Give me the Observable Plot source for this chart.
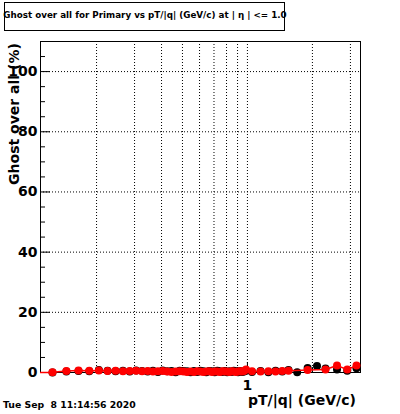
<!DOCTYPE html>
<html>
<head>
<meta charset="utf-8">
<script src="https://cdn.jsdelivr.net/npm/d3@7"></script>
<script src="https://cdn.jsdelivr.net/npm/@observablehq/plot@0.6"></script>
<style>
  html, body { margin: 0; padding: 0; background: #fff; }
  #wrap { position: relative; width: 400px; height: 414px; overflow: hidden; font-family: "DejaVu Sans", sans-serif; font-weight: bold; color: #000; }
  .abs { position: absolute; white-space: pre; line-height: 1; }
  #titlebox { left: 4px; top: 2px; width: 279px; height: 27px; border: 1px solid #000; }
  #title { left: 0px; top: 11px; width: 290px; text-align: center; font-size: 8.75px; }
  #date { left: 3px; top: 400px; font-size: 9.3px; }
  #xlabel { left: 248px; top: 393px; font-size: 14px; }
  #ylabel { left: 14px; top: 114px; font-size: 14px; transform: translate(-50%, -50%) rotate(-90deg); }
</style>
</head>
<body>
<div id="wrap">
  <div id="chart"></div>
  <div class="abs" id="titlebox"></div>
  <div class="abs" id="title">Ghost over all for Primary vs pT/|q| (GeV/c) at | η | &lt;= 1.0</div>
  <div class="abs" id="date">Tue Sep  8 11:14:56 2020</div>
  <div class="abs" id="xlabel">pT/|q| (GeV/c)</div>
  <div class="abs" id="ylabel">Ghost over all (%)</div>
</div>
<script>
// ---- data ----
const pt = [0.125,0.145,0.165,0.185,0.205,0.225,0.245,0.265,0.285,0.305,0.325,0.345,0.365,0.385,0.405,0.425,0.445,0.465,0.485,0.505,0.525,0.545,0.565,0.585,0.605,0.625,0.645,0.665,0.685,0.705,0.725,0.745,0.765,0.785,0.805,0.825,0.845,0.865,0.885,0.905,0.925,0.945,0.965,0.985,1.05,1.15,1.25,1.35,1.45,1.55,1.7,1.9,2.1,2.3,2.6,2.9,3.2];
const ghostRed = [0.1,0.5,0.7,0.6,0.7,0.5,0.6,0.4,0.5,0.6,0.4,0.5,0.3,0.4,0.5,0.3,0.2,0.3,0.4,0.3,0.2,0.3,0.2,0.4,0.3,0.2,0.3,0.4,0.2,0.3,0.3,0.2,0.4,0.3,0.3,0.2,0.4,0.3,0.2,0.3,0.4,0.3,0.5,1.0,0.4,0.3,0.4,0.3,0.5,0.6,null,0.8,null,1.0,2.3,1.0,2.3];
const ghostBlack = [0.0,0.3,0.5,0.4,0.8,0.6,0.4,0.6,0.3,0.7,0.5,0.3,0.6,0.2,0.7,0.4,0.5,0.1,0.6,0.5,0.4,0.1,0.5,0.2,0.6,0.4,0.1,0.5,0.4,0.1,0.6,0.4,0.2,0.5,0.1,0.4,0.2,0.6,0.4,0.1,0.5,0.2,0.3,0.6,0.2,0.5,0.1,0.6,0.3,0.8,0.1,1.5,2.2,1.3,1.0,0.6,1.4];
const yMajor = [0,20,40,60,80,100];
const yMinor = [5,10,15,25,30,35,45,50,55,65,70,75,85,90,95,105];
const yGrid = [20,40,60,80,100];
const xGrid = [0.2,0.3,0.4,0.5,0.6,0.7,0.8,0.9,1,2,3];
const xMajor = [1];
const xMinor = [0.2,0.3,0.4,0.5,0.6,0.7,0.8,0.9,2,3];
const xDomain = [0.11, 3.34];
const yDomain = [0, 110];

const red = pt.map((p, i) => ({pt: p, v: ghostRed[i]})).filter(d => d.v != null);
const black = pt.map((p, i) => ({pt: p, v: ghostBlack[i]})).filter(d => d.v != null);

const chart = Plot.plot({
  width: 400,
  height: 414,
  marginLeft: 40,
  marginRight: 40,
  marginTop: 41,
  marginBottom: 42,
  style: {fontFamily: "DejaVu Sans", fontWeight: "bold", fontSize: "14px", color: "#000", background: "#fff"},
  x: {type: "log", domain: xDomain, range: [40, 360]},
  y: {domain: yDomain},
  marks: [
    Plot.ruleX(xGrid, {stroke: "#000", strokeWidth: 1, strokeDasharray: "1,2"}),
    Plot.ruleY(yGrid, {stroke: "#000", strokeWidth: 1, strokeDasharray: "1,2"}),
    Plot.axisY({ticks: yMajor, tickSize: 0, tickPadding: 3, tickFormat: d => String(d), fontSize: 14, fontWeight: "bold", label: null}),
    Plot.axisY({ticks: yMajor, tickSize: -10, tickFormat: () => "", label: null}),
    Plot.axisY({ticks: yMinor, tickSize: -5, tickFormat: () => "", label: null}),
    Plot.axisX({ticks: xMajor, tickSize: 0, tickPadding: 8, tickFormat: d => String(d), fontSize: 14, fontWeight: "bold", label: null}),
    Plot.axisX({ticks: xMajor, tickSize: -10, tickFormat: () => "", label: null}),
    Plot.axisX({ticks: xMinor, tickSize: -5, tickFormat: () => "", label: null}),
    Plot.frame({stroke: "#000", strokeWidth: 1}),
    Plot.dot(black, {x: "pt", y: "v", r: 4, fill: "#000", stroke: "none"}),
    Plot.ruleY([0], {x1: xDomain[0], x2: pt[0], stroke: "#ff0000", strokeWidth: 1.5}),
    Plot.line(red, {x: "pt", y: "v", stroke: "#ff0000", strokeWidth: 1.5}),
    Plot.dot(red, {x: "pt", y: "v", r: 4, fill: "#ff0000", stroke: "none"})
  ]
});
document.getElementById("chart").appendChild(chart);
</script>
</body>
</html>
